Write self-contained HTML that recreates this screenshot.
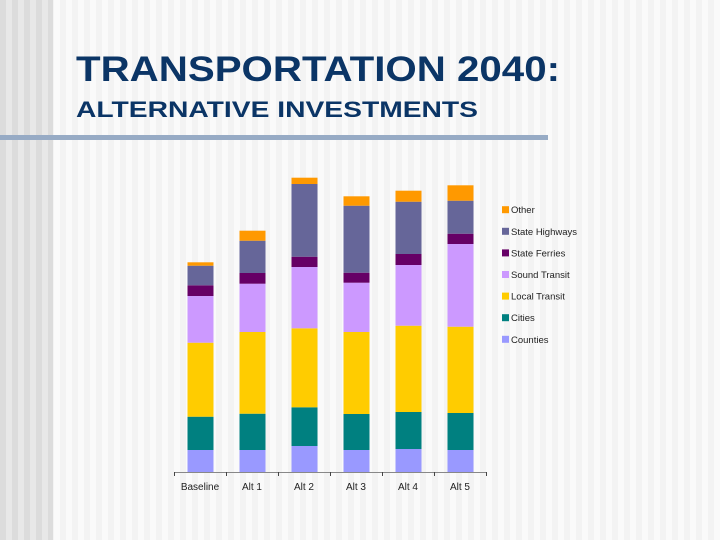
<!DOCTYPE html>
<html><head><meta charset="utf-8"><style>
html,body{margin:0;padding:0;width:720px;height:540px;overflow:hidden}
body{background:repeating-linear-gradient(90deg,#f3f3f3 0 6px,#fafafa 6px 12px)}
#left{position:absolute;left:0;top:0;width:53px;height:540px;background:repeating-linear-gradient(90deg,#dcdcdc 0 6px,#e8e8e8 6px 12px)}
svg{position:absolute;left:0;top:0}
</style></head><body>
<div id="left"></div>
<svg width="720" height="540" id="chart" font-family="Liberation Sans, sans-serif">
<text x="76" y="81" font-size="35" font-weight="bold" fill="#0b3566" textLength="484" lengthAdjust="spacingAndGlyphs">TRANSPORTATION 2040:</text>
<text x="76" y="117" font-size="22" font-weight="bold" fill="#0b3566" textLength="402" lengthAdjust="spacingAndGlyphs">ALTERNATIVE INVESTMENTS</text>
<rect x="0" y="135" width="548" height="5" fill="#97abc5"/>
<g id="bars"></g>
<g id="axis"></g>
<g id="legend"></g>
</svg>
<script>
const categories=["Baseline","Alt 1","Alt 2","Alt 3","Alt 4","Alt 5"];
const seriesNames=["Counties","Cities","Local Transit","Sound Transit","State Ferries","State Highways","Other"];
const colors=["#9999ff","#008080","#ffcc00","#cc99ff","#660066","#666699","#ff9900"];
const counties=[22,22,26,22,23,22];
const cities=[33.3,36.3,38.7,36,37,37];
const localTransit=[74,81.7,79,82,86.3,86.3];
const soundTransit=[46.7,48.3,61.3,49.3,60.7,82.7];
const stateFerries=[10.7,10.7,10.3,10,11,10.3];
const stateHighways=[19.6,32.3,72.7,67,52.3,33];
const other=[3.4,10,6.3,9.4,11,15.4];
const series=[counties,cities,localTransit,soundTransit,stateFerries,stateHighways,other];
const NS="http://www.w3.org/2000/svg";
const x0=174,step=52,barW=26,yBase=472,yMax=300,plotH=300;
function xScale(i){return x0+step*i+(step-barW)/2+0.5;}
function yScale(v){return yBase-v/yMax*plotH;}
const bars=document.getElementById('bars');
categories.forEach((c,i)=>{
  let cum=0;
  series.forEach((s,k)=>{
    const y1=yScale(cum),y2=yScale(cum+s[i]);cum+=s[i];
    const r=document.createElementNS(NS,'rect');
    r.setAttribute('x',xScale(i));r.setAttribute('y',y2);
    r.setAttribute('width',barW);r.setAttribute('height',y1-y2);
    r.setAttribute('fill',colors[k]);
    
    
    bars.appendChild(r);
  });
});
const ax=document.getElementById('axis');
const line=document.createElementNS(NS,'line');
line.setAttribute('x1',x0);line.setAttribute('x2',x0+step*6);line.setAttribute('y1',yBase+0.5);line.setAttribute('y2',yBase+0.5);
line.setAttribute('stroke','#888');


ax.appendChild(line);
for(let i=0;i<=6;i++){
  const t=document.createElementNS(NS,'line');
  const x=x0+step*i+0.5;
  t.setAttribute('x1',x);t.setAttribute('x2',x);t.setAttribute('y1',yBase);t.setAttribute('y2',yBase+4);
  t.setAttribute('stroke','#444');
  
  
  ax.appendChild(t);
}
categories.forEach((c,i)=>{
  const t=document.createElementNS(NS,'text');
  t.setAttribute('x',x0+step*i+step/2);t.setAttribute('y',490);
  t.setAttribute('text-anchor','middle');t.setAttribute('font-size','10');t.setAttribute('fill','#222');
  t.textContent=c;
  
  
  ax.appendChild(t);
});
const lg=document.getElementById('legend');
for(let k=6;k>=0;k--){
  const row=6-k,cy=209.7+row*21.6;
  const r=document.createElementNS(NS,'rect');
  r.setAttribute('x',502);r.setAttribute('y',cy-3.5);r.setAttribute('width',7);r.setAttribute('height',7);r.setAttribute('fill',colors[k]);
  
  
  lg.appendChild(r);
  const t=document.createElementNS(NS,'text');
  t.setAttribute('x',511);t.setAttribute('y',cy+3.5);t.setAttribute('font-size','9.5');t.setAttribute('fill','#222');
  t.textContent=seriesNames[k];
  
  
  lg.appendChild(t);
}
</script>
</body></html>
